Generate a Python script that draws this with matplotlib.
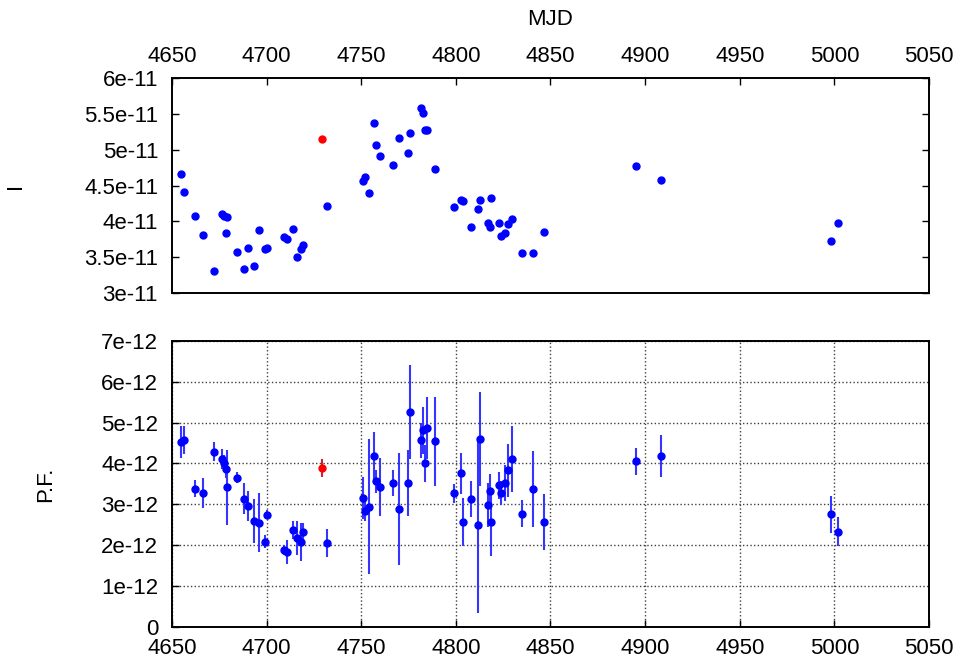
import numpy as np
import matplotlib
matplotlib.use('Agg')
import matplotlib.pyplot as plt
from matplotlib.ticker import FixedLocator, FixedFormatter

plt.rcParams['font.family'] = ['Liberation Sans', 'DejaVu Sans']

# Observation dates (MJD - 50000 style offsets as plotted)
mjd = [4654.8, 4656.2, 4662.2, 4666.2, 4672.0, 4676.3, 4677.6, 4678.4, 4679.1,
       4684.2, 4688.0, 4690.0, 4693.3, 4696.0, 4699.0, 4700.0, 4709.0, 4710.9,
       4713.9, 4716.0, 4718.0, 4719.1, 4731.9, 4751.1, 4752.0, 4754.1,
       4756.9, 4758.0, 4759.9, 4766.9, 4769.8, 4774.9, 4775.8, 4781.7, 4782.8,
       4783.9, 4784.9, 4788.8, 4798.8, 4802.9, 4803.9, 4807.8, 4811.9, 4812.7,
       4816.8, 4817.9, 4818.7, 4822.8, 4823.8, 4825.8, 4827.7, 4829.8, 4834.8,
       4840.8, 4846.7, 4895.2, 4908.2, 4998.0, 5002.1]

# Intensity, units of 1e-11
intensity = [4.66, 4.41, 4.07, 3.81, 3.30, 4.10, 4.08, 3.83, 4.06,
             3.57, 3.33, 3.63, 3.37, 3.88, 3.61, 3.62, 3.78, 3.75,
             3.89, 3.50, 3.61, 3.67, 4.21, 4.56, 4.62, 4.39,
             5.38, 5.06, 4.91, 4.79, 5.16, 4.95, 5.24, 5.58, 5.51,
             5.27, 5.28, 4.73, 4.20, 4.30, 4.29, 3.92, 4.17, 4.30,
             3.97, 3.92, 4.32, 3.98, 3.80, 3.83, 3.96, 4.03, 3.55,
             3.55, 3.85, 4.78, 4.58, 3.72, 3.98]

# Pulsed flux and its error, units of 1e-12
pf = [4.53, 4.58, 3.38, 3.27, 4.29, 4.11, 4.00, 3.86, 3.42,
      3.65, 3.13, 2.96, 2.60, 2.55, 2.08, 2.74, 1.88, 1.83,
      2.37, 2.17, 2.07, 2.32, 2.05, 3.16, 2.84, 2.94,
      4.18, 3.56, 3.42, 3.52, 2.88, 3.52, 5.27, 4.57, 4.81,
      4.00, 4.86, 4.54, 3.27, 3.76, 2.57, 3.14, 2.49, 4.60,
      2.98, 3.33, 2.57, 3.46, 3.28, 3.51, 3.83, 4.11, 2.77,
      3.38, 2.56, 4.05, 4.18, 2.75, 2.33]
pf_err = [0.39, 0.34, 0.21, 0.37, 0.24, 0.24, 0.20, 0.22, 0.92,
          0.13, 0.38, 0.37, 0.54, 0.72, 0.16, 0.11, 0.12, 0.29,
          0.22, 0.42, 0.47, 0.22, 0.35, 0.51, 0.25, 1.65,
          0.59, 0.29, 0.71, 0.32, 1.38, 0.81, 1.15, 0.43, 0.57,
          0.45, 0.76, 1.09, 0.23, 0.50, 0.59, 0.44, 2.16, 1.15,
          0.54, 0.41, 0.84, 0.33, 0.29, 0.44, 0.65, 0.80, 0.33,
          0.93, 0.69, 0.34, 0.51, 0.46, 0.35]

# Flagged observation (red)
mjd_flag = [4729.1]
intensity_flag = [5.15]
pf_flag = [3.89]
pf_flag_err = [0.22]

x_ticks = [4650, 4700, 4750, 4800, 4850, 4900, 4950, 5000, 5050]
i_ticks = [3.0, 3.5, 4.0, 4.5, 5.0, 5.5, 6.0]
i_labels = ['3e-11', '3.5e-11', '4e-11', '4.5e-11', '5e-11', '5.5e-11', '6e-11']
pf_ticks = [0, 1, 2, 3, 4, 5, 6, 7]
pf_labels = ['0', '1e-12', '2e-12', '3e-12', '4e-12', '5e-12', '6e-12', '7e-12']

fs = 16
fig = plt.figure(figsize=(9.63, 6.66), dpi=100)
ax1 = fig.add_axes([0.1786, 0.5605, 0.7861, 0.3219])
ax2 = fig.add_axes([0.1786, 0.059, 0.7861, 0.429])

# top panel: intensity
ax1.plot(mjd, intensity, 'o', color='blue', ms=5, mec='blue')
ax1.plot(mjd_flag, intensity_flag, 'o', color='red', ms=5, mec='red')
ax1.set_xlim(4650, 5050)
ax1.set_ylim(3.0, 6.0)
ax1.xaxis.set_major_locator(FixedLocator(x_ticks))
ax1.yaxis.set_major_locator(FixedLocator(i_ticks))
ax1.yaxis.set_major_formatter(FixedFormatter(i_labels))
ax1.xaxis.tick_top()
ax1.xaxis.set_label_position('top')
ax1.set_xlabel('MJD', fontsize=fs, labelpad=15)
ax1.set_ylabel('I', fontsize=fs, labelpad=42)
ax1.tick_params(axis='both', direction='in', length=5, width=1, labelsize=fs)
ax1.tick_params(axis='x', pad=8)
ax1.tick_params(axis='y', pad=10, right=True)

# bottom panel: pulsed flux with error bars
ax2.errorbar(mjd, pf, yerr=pf_err, fmt='o', color='blue', ms=5,
             ecolor='#3535ff', elinewidth=1.5, capsize=0)
ax2.errorbar(mjd_flag, pf_flag, yerr=pf_flag_err, fmt='o', color='red', ms=5,
             ecolor='#d0203a', elinewidth=1.5, capsize=0)
ax2.set_xlim(4650, 5050)
ax2.set_ylim(0, 7)
ax2.xaxis.set_major_locator(FixedLocator(x_ticks))
ax2.yaxis.set_major_locator(FixedLocator(pf_ticks))
ax2.yaxis.set_major_formatter(FixedFormatter(pf_labels))
ax2.set_ylabel('P.F.', fontsize=fs, labelpad=32)
ax2.grid(True, linestyle=':', color='0.25', linewidth=1)
ax2.set_axisbelow(True)
ax2.tick_params(axis='both', direction='in', length=5, width=1, labelsize=fs)
ax2.tick_params(axis='x', pad=8)
ax2.tick_params(axis='y', pad=10)

for ax in (ax1, ax2):
    for s in ax.spines.values():
        s.set_linewidth(1.4)

plt.savefig('out.png', dpi=100)
